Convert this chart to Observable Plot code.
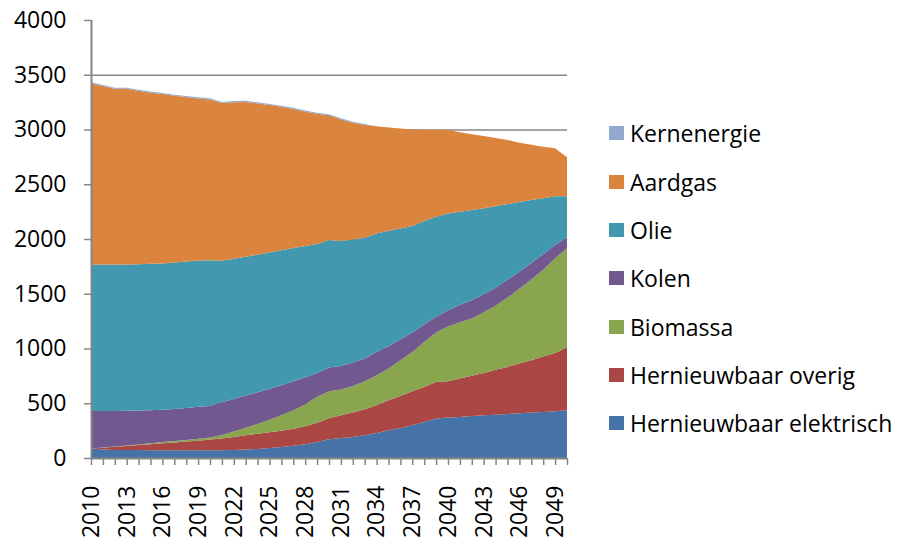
<!DOCTYPE html>
<html>
<head>
<meta charset="utf-8">
<script src="https://cdn.jsdelivr.net/npm/d3@7"></script>
<script src="https://cdn.jsdelivr.net/npm/@observablehq/plot@0.6"></script>
<style>
  html, body { margin: 0; padding: 0; background: #fff; }
  #wrap { position: relative; width: 897px; height: 540px; overflow: hidden; font-family: 'Open Sans', sans-serif; }
  #legend { position: absolute; left: 0; top: 0; }
  .item { position: absolute; left: 609px; display: flex; align-items: center; height: 30px; font-size: 23px; color: #000; white-space: nowrap; }
  .sw { width: 15px; height: 14px; margin-right: 6px; }
</style>
</head>
<body>
<div id="wrap"><div id="chart"></div><div id="legend"></div></div>
<script>
const years = [2010,2011,2012,2013,2014,2015,2016,2017,2018,2019,2020,2021,2022,2023,2024,2025,2026,2027,2028,2029,2030,2031,2032,2033,2034,2035,2036,2037,2038,2039,2040,2041,2042,2043,2044,2045,2046,2047,2048,2049,2050];

const seriesNames = ["Hernieuwbaar elektrisch", "Hernieuwbaar overig", "Biomassa", "Kolen", "Olie", "Aardgas", "Kernenergie"];
const seriesColors = ["#4572A7", "#AA4643", "#89A54E", "#71588F", "#4198AF", "#DB843D", "#93A9CF"];

const elektrisch = [86,78,74,72,72,71,71,71,71,71,71,71,73,77,83,91,100,111,125,146,172,183,192,207,229,253,274,299,329,360,369,375,383,390,396,402,408,415,421,427,436];
const overig     = [0,16,28,38,46,55,63,71,79,87,97,106,119,130,138,145,150,157,165,176,192,207,223,238,253,274,293,311,320,335,332,351,369,387,409,430,454,478,505,533,573];
const biomassa   = [0,1,2,4,6,8,11,13,15,18,20,33,51,70,90,114,140,167,198,238,246,235,243,256,274,290,326,359,411,451,499,514,523,553,585,633,683,737,794,865,906];
const kolen      = [344,335,326,317,309,302,296,293,292,291,288,298,295,293,289,281,274,265,250,216,216,216,214,207,213,204,189,177,159,143,150,160,165,165,165,163,155,150,140,120,101];
const olie       = [1338,1338,1338,1337,1337,1337,1336,1337,1338,1337,1331,1293,1282,1267,1257,1246,1234,1218,1197,1179,1164,1140,1124,1103,1082,1054,1015,972,945,914,884,849,825,785,745,691,638,576,513,445,374];
const aardgas    = [1653,1629,1604,1604,1584,1563,1547,1523,1501,1480,1468,1441,1430,1415,1381,1346,1310,1270,1228,1188,1140,1111,1065,1029,979,943,911,882,834,795,761,725,692,660,622,585,542,504,470,438,356];
const kernenergie= [10,10,10,10,10,10,10,10,10,10,10,10,10,10,10,10,10,10,10,10,10,10,10,10,0,0,0,0,0,0,0,0,0,0,0,0,0,0,0,0,0];

const yTicks = [0,500,1000,1500,2000,2500,3000,3500,4000];
const yGrid = [500,1000,1500,2000,2500,3000,3500];
const xTickLabels = [2010,2013,2016,2019,2022,2025,2028,2031,2034,2037,2040,2043,2046,2049];
const legendOrder = ["Kernenergie", "Aardgas", "Olie", "Kolen", "Biomassa", "Hernieuwbaar overig", "Hernieuwbaar elektrisch"];

const seriesValues = [elektrisch, overig, biomassa, kolen, olie, aardgas, kernenergie];
const rows = [];
years.forEach((yr, i) => {
  seriesNames.forEach((s, j) => rows.push({year: yr, series: s, value: seriesValues[j][i]}));
});

const axisGray = "#868686";

const chart = Plot.plot({
  width: 580,
  height: 540,
  marginLeft: 91,
  marginRight: 13,
  marginTop: 20,
  marginBottom: 82,
  style: {fontFamily: "'Open Sans', sans-serif", fontSize: "23px", color: "#000", background: "transparent", overflow: "visible"},
  x: {domain: [2010, 2050]},
  y: {domain: [0, 4000]},
  color: {domain: seriesNames, range: seriesColors},
  marks: [
    Plot.ruleY(yGrid, {stroke: axisGray, strokeWidth: 1.5}),
    Plot.areaY(rows, {x: "year", y: "value", z: "series", fill: "series", order: seriesNames, curve: "linear"}),
    Plot.ruleX([2010], {stroke: axisGray, strokeWidth: 2}),
    Plot.ruleY([0], {stroke: axisGray, strokeWidth: 2}),
    Plot.axisY({ticks: yTicks, tickSize: 7, tickPadding: 18, stroke: axisGray, strokeWidth: 1.5, tickFormat: d => String(d), label: null, fill: "#000"}),
    Plot.axisX({ticks: years, tickSize: 7, tickFormat: () => "", stroke: axisGray, strokeWidth: 1.5, label: null}),
    Plot.axisX({ticks: xTickLabels, tickSize: 0, tickPadding: 27, tickRotate: -90, tickFormat: d => String(d), label: null, fill: "#000"})
  ]
});
document.getElementById("chart").appendChild(chart);

const legendTops = [133, 182, 230, 278, 327, 375, 423];
const legend = document.getElementById("legend");
legendOrder.forEach((name, i) => {
  const item = document.createElement("div");
  item.className = "item";
  item.style.top = (legendTops[i] - 15) + "px";
  const sw = document.createElement("div");
  sw.className = "sw";
  sw.style.background = seriesColors[seriesNames.indexOf(name)];
  const tx = document.createElement("span");
  tx.textContent = name;
  item.appendChild(sw);
  item.appendChild(tx);
  legend.appendChild(item);
});
</script>
</body>
</html>
